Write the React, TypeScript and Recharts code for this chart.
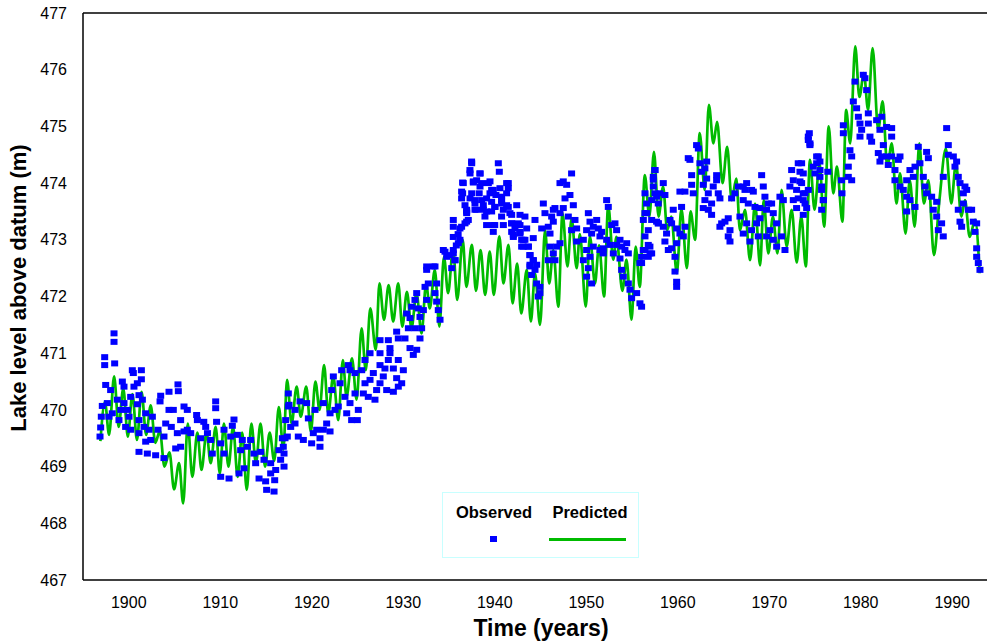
import React from 'react';
import { ComposedChart, Line, Scatter, XAxis, YAxis, ReferenceLine } from 'recharts';

// Observed lake levels [year, metres]
const obs1895: number[][] = [
  [1896.86, 469.53], [1896.93, 469.69], [1897.0, 469.88], [1897.11, 470.07], [1897.48, 470.44], [1897.37, 470.93],
  [1897.37, 470.79], [1898.39, 471.35], [1898.39, 471.2], [1898.46, 470.82], [1898.02, 470.35], [1897.84, 469.88],
  [1898.75, 470.18], [1898.93, 469.82], [1899.3, 470.5], [1899.48, 470.41], [1899.85, 470.0], [1900.39, 470.7],
  [1900.5, 470.65], [1901.38, 470.7], [1901.38, 470.54], [1900.94, 470.1], [1900.57, 470.41], [1900.21, 469.65],
  [1901.12, 469.82], [1901.85, 469.44], [1901.12, 469.26], [1902.03, 469.23], [1902.94, 469.2], [1903.85, 469.15],
  [1903.49, 470.25], [1903.42, 470.15], [1904.4, 470.32], [1905.38, 470.45], [1905.42, 470.33], [1904.4, 470.0],
  [1904.87, 470.0], [1904.04, 469.76], [1904.65, 469.7], [1903.85, 469.53], [1905.31, 469.59], [1906.04, 470.06],
  [1906.4, 470.0], [1905.67, 469.82], [1906.04, 469.62], [1907.42, 469.91], [1907.5, 469.82], [1906.77, 469.59],
  [1908.2, 469.79], [1908.41, 469.7], [1909.5, 470.15], [1909.5, 470.03], [1909.6, 469.79], [1911.5, 469.83],
  [1911.32, 469.72], [1911.14, 469.53], [1908.95, 469.47], [1910.05, 469.41], [1910.41, 469.23], [1910.05, 468.82],
  [1910.96, 468.79], [1912.05, 468.88], [1912.6, 468.97], [1912.23, 469.29], [1913.32, 469.47], [1913.87, 469.06],
  [1914.24, 468.79], [1914.96, 468.74], [1915.07, 468.59], [1915.88, 468.56], [1915.95, 468.76], [1915.51, 468.88],
  [1916.6, 469.12], [1916.97, 469.0], [1916.97, 469.23], [1916.79, 469.5], [1917.51, 470.09], [1917.7, 469.7],
  [1899.12, 470.0], [1899.66, 469.7], [1900.03, 469.88], [1901.49, 470.18], [1901.67, 469.7], [1902.21, 469.65],
  [1902.58, 469.88], [1903.2, 469.65], [1902.4, 469.47], [1905.13, 469.32], [1905.67, 469.35], [1906.4, 469.65],
  [1907.86, 469.5], [1908.6, 469.59], [1909.13, 469.23], [1910.41, 469.65], [1911.87, 469.56], [1912.41, 469.47],
  [1912.96, 469.35], [1913.69, 469.23], [1914.42, 469.26], [1914.78, 469.12], [1915.51, 469.06], [1916.06, 468.94],
  [1916.42, 469.29], [1917.15, 469.82], [1917.33, 469.53], [1900.94, 470.47], [1901.12, 470.26], [1897.66, 470.12],
  [1898.2, 469.94], [1899.48, 470.12], [1900.21, 470.23], [1901.12, 469.59], [1901.85, 469.94],
];

const obs1916: number[][] = [
  [1916.89, 469.35], [1917.08, 469.5], [1919.08, 469.47], [1919.99, 469.41], [1920.9, 469.35], [1920.9, 469.5],
  [1917.44, 470.29], [1917.44, 470.06], [1918.17, 470.0], [1918.17, 469.76], [1918.72, 470.15], [1919.44, 470.12],
  [1919.63, 469.85], [1920.36, 470.0], [1920.54, 469.65], [1921.63, 469.76], [1922.0, 469.94], [1922.54, 470.0],
  [1921.27, 470.12], [1922.18, 470.35], [1922.36, 470.59], [1923.09, 470.47], [1923.27, 470.7], [1923.63, 470.23],
  [1924.18, 470.12], [1924.36, 469.82], [1925.09, 470.0], [1924.98, 469.82], [1924.18, 470.7], [1924.0, 470.79],
  [1924.73, 470.65], [1925.46, 470.7], [1925.82, 470.47], [1926.18, 470.23], [1926.91, 470.18], [1927.09, 470.35],
  [1925.82, 470.88], [1926.37, 471.0], [1927.46, 470.79], [1927.82, 470.59], [1927.46, 470.47], [1928.19, 470.35],
  [1928.92, 470.32], [1929.83, 470.47], [1930.01, 470.7], [1929.46, 470.88], [1928.92, 470.73], [1928.37, 470.88],
  [1928.55, 471.0], [1927.46, 471.0], [1927.46, 471.23], [1928.37, 471.23], [1928.55, 471.09], [1929.28, 471.38],
  [1929.46, 471.26], [1930.19, 471.26], [1930.74, 471.09], [1931.1, 470.97], [1931.47, 471.06], [1931.83, 471.26],
  [1931.28, 471.44], [1930.56, 471.44], [1930.37, 471.7], [1930.92, 471.82], [1930.74, 471.62], [1931.28, 471.94],
  [1931.65, 471.79], [1931.83, 471.64], [1932.01, 471.44], [1931.47, 472.06], [1932.2, 471.76], [1932.56, 472.47],
  [1932.74, 472.23], [1933.29, 472.53], [1933.65, 472.23], [1933.47, 472.06], [1933.65, 471.91], [1933.83, 471.76],
  [1934.02, 471.59], [1932.38, 472.17], [1932.56, 471.94], [1934.56, 472.79], [1934.75, 472.7], [1935.11, 472.73],
  [1935.47, 472.76], [1935.66, 472.64], [1918.53, 469.53], [1920.17, 469.59], [1921.27, 469.65], [1922.0, 469.62],
  [1922.9, 470.06], [1923.82, 469.94], [1924.73, 470.29], [1925.64, 470.29], [1926.37, 470.53], [1926.73, 470.65],
  [1928.0, 470.73], [1929.28, 470.56], [1929.46, 470.41], [1935.3, 472.5], [1935.8, 472.9], [1936.0, 473.1],
  [1932.56, 472.53], [1933.47, 472.53], [1934.38, 472.82], [1935.47, 472.82], [1935.65, 472.64], [1935.47, 473.05],
  [1935.47, 473.23], [1935.47, 473.35], [1936.02, 472.94],
];

const obs1936: number[][] = [
  [1936.2, 473.0], [1936.38, 473.23], [1936.56, 474.0], [1936.38, 473.85], [1936.93, 473.47], [1937.11, 473.35],
  [1936.75, 473.29], [1937.48, 474.35], [1937.29, 474.23], [1938.39, 474.17], [1938.02, 474.05], [1938.39, 473.94],
  [1937.66, 474.03], [1937.48, 473.82], [1937.84, 473.7], [1938.57, 473.7], [1937.84, 473.53], [1936.93, 473.53],
  [1938.75, 473.61], [1939.3, 474.0], [1939.48, 473.82], [1939.84, 473.88], [1940.39, 474.35], [1940.5, 474.2],
  [1940.75, 473.76], [1941.3, 474.0], [1941.48, 473.91], [1940.75, 473.64], [1941.3, 473.61], [1940.13, 473.79],
  [1939.66, 473.67], [1940.03, 473.58], [1939.11, 473.5], [1939.84, 473.26], [1940.94, 473.26], [1941.66, 473.47],
  [1941.85, 473.29], [1942.03, 473.09], [1942.21, 473.2], [1942.58, 473.29], [1942.76, 473.14], [1942.94, 473.0],
  [1943.3, 473.0], [1943.12, 472.88], [1943.67, 472.88], [1943.85, 472.73], [1944.21, 472.64], [1943.85, 472.53],
  [1944.4, 472.47], [1944.58, 472.56], [1944.03, 472.38], [1944.58, 472.23], [1944.94, 472.17], [1944.94, 472.06],
  [1944.76, 472.0], [1944.4, 473.35], [1945.13, 473.2], [1945.31, 473.64], [1945.49, 473.47], [1945.85, 473.23],
  [1946.04, 473.11], [1946.22, 473.41], [1946.4, 473.53], [1946.58, 473.56], [1946.4, 473.32], [1947.13, 474.0],
  [1947.49, 474.03], [1947.86, 473.97], [1948.4, 474.17], [1948.22, 473.79], [1948.59, 473.61], [1947.68, 473.73],
  [1947.49, 473.56], [1947.13, 473.47], [1948.04, 473.41], [1948.77, 473.35], [1948.95, 473.2], [1948.4, 473.17],
  [1948.95, 472.97], [1947.13, 472.94], [1946.4, 472.76], [1946.76, 472.88], [1946.04, 472.88], [1945.85, 472.64],
  [1946.58, 472.64], [1949.68, 473.0], [1950.23, 473.47], [1950.41, 473.32], [1950.04, 473.17], [1950.59, 473.11],
  [1950.77, 473.23], [1951.14, 473.35], [1951.32, 473.2], [1951.68, 473.14], [1951.5, 473.06], [1950.77, 472.88],
  [1950.41, 472.7], [1950.04, 472.82], [1949.68, 472.64], [1950.23, 472.5], [1950.04, 472.35], [1950.59, 472.23],
  [1951.5, 472.82], [1951.86, 472.76], [1952.23, 473.7], [1952.41, 473.58], [1952.78, 473.26], [1953.14, 473.29],
  [1953.32, 473.17], [1953.69, 473.0], [1953.32, 472.91], [1953.87, 472.88], [1954.23, 472.82], [1954.42, 472.94],
  [1954.6, 472.76], [1952.96, 472.76], [1952.59, 472.91], [1952.23, 473.0], [1951.86, 472.85], [1953.69, 472.67],
  [1953.87, 472.47], [1954.05, 472.35], [1954.6, 472.23], [1954.78, 472.12], [1954.96, 471.97], [1955.51, 472.06],
  [1955.87, 471.88], [1956.05, 471.82], [1955.87, 472.59], [1956.05, 472.7], [1956.42, 472.82], [1956.78, 472.91],
  [1956.97, 472.76], [1956.24, 473.35], [1956.42, 473.47], [1956.6, 473.64], [1956.42, 473.82], [1957.51, 474.23],
  [1957.33, 474.06], [1957.51, 473.82], [1957.15, 473.35], [1957.69, 473.32], [1957.88, 473.29],
  [1937.47, 474.38], [1937.3, 474.17], [1938.39, 474.17], [1936.49, 474.01], [1937.66, 474.01], [1939.48, 474.03],
  [1938.57, 474.0], [1941.48, 474.0], [1940.57, 473.91], [1936.49, 473.82], [1938.3, 473.82], [1939.66, 473.88],
  [1941.3, 473.82], [1936.38, 473.73], [1937.3, 473.73], [1939.11, 473.73], [1940.75, 473.7], [1936.75, 473.61],
  [1937.84, 473.64], [1940.0, 473.58], [1942.4, 473.61], [1941.48, 473.58], [1936.93, 473.5], [1938.75, 473.53],
  [1939.66, 473.5], [1940.94, 473.53], [1942.76, 473.44], [1938.02, 473.53], [1938.93, 473.41], [1940.75, 473.41],
  [1941.85, 473.44], [1943.3, 473.41], [1936.93, 473.32], [1939.11, 473.26], [1940.0, 473.26], [1941.85, 473.29],
  [1942.76, 473.26], [1943.49, 473.2], [1936.2, 473.2], [1939.84, 473.14], [1941.85, 473.14], [1942.76, 473.11],
  [1942.03, 473.05], [1943.12, 473.0], [1944.21, 473.03], [1942.94, 472.88], [1943.67, 472.88], [1943.85, 472.73],
  [1944.21, 472.64], [1943.85, 472.56],
];

const obs1956: number[][] = [
  [1956.05, 472.59], [1956.23, 472.82], [1956.42, 473.06], [1956.78, 473.17], [1956.96, 472.88], [1956.78, 472.7],
  [1957.15, 472.76], [1956.6, 473.47], [1957.15, 473.7], [1957.33, 473.94], [1957.51, 474.23], [1957.33, 474.11],
  [1957.69, 473.76], [1957.87, 473.64], [1958.06, 473.82], [1958.42, 474.0], [1958.6, 473.79], [1957.87, 473.29],
  [1958.42, 473.23], [1958.78, 473.11], [1958.6, 472.97], [1959.15, 473.35], [1959.33, 473.29], [1959.51, 473.53],
  [1959.88, 473.2], [1960.24, 473.11], [1960.61, 473.06], [1960.79, 473.23], [1960.42, 473.58], [1960.79, 473.85],
  [1960.24, 473.85], [1959.88, 472.94], [1959.7, 472.7], [1959.33, 472.85], [1958.97, 472.82], [1959.7, 472.44],
  [1959.88, 472.26], [1959.88, 472.17], [1961.33, 474.41], [1961.15, 474.44], [1961.52, 474.14], [1961.52, 473.97],
  [1961.7, 473.82], [1962.06, 474.67], [1962.25, 474.61], [1962.43, 474.35], [1962.61, 474.2], [1962.97, 474.26],
  [1963.16, 474.38], [1963.16, 474.08], [1962.79, 473.97], [1963.34, 473.82], [1962.97, 473.7], [1962.79, 473.56],
  [1963.34, 473.53], [1963.7, 473.64], [1963.88, 473.94], [1964.25, 474.14], [1964.25, 474.05], [1964.43, 473.82],
  [1963.7, 473.44], [1964.61, 473.73], [1964.8, 473.29], [1964.61, 473.23], [1965.16, 473.32], [1965.52, 473.38],
  [1965.71, 473.17], [1965.71, 472.97], [1965.52, 473.06], [1965.89, 473.73], [1966.25, 473.82], [1966.62, 473.94],
  [1967.16, 473.94], [1967.35, 473.88], [1967.53, 474.0], [1968.07, 473.88], [1968.26, 473.85], [1967.16, 473.7],
  [1967.71, 473.64], [1968.44, 473.58], [1968.98, 473.56], [1968.98, 473.38], [1966.8, 473.41], [1967.53, 473.29],
  [1967.16, 473.11], [1968.07, 473.17], [1968.62, 473.29], [1968.8, 473.06], [1967.89, 472.97], [1969.17, 474.14],
  [1969.35, 473.94], [1969.53, 473.76], [1969.9, 473.64], [1970.26, 473.64], [1969.71, 473.53], [1970.44, 473.47],
  [1970.81, 473.29], [1970.08, 473.17], [1969.71, 473.06], [1970.44, 473.0], [1970.81, 472.88], [1971.35, 473.06],
  [1971.72, 472.82], [1971.54, 473.7], [1971.17, 473.76], [1972.26, 473.94], [1972.45, 474.23], [1972.63, 474.05],
  [1973.36, 474.2], [1973.36, 474.03], [1973.17, 474.35], [1972.99, 473.88], [1973.17, 473.73], [1973.72, 473.7],
  [1973.9, 473.82], [1972.63, 473.7], [1972.99, 473.56], [1974.09, 473.56], [1974.27, 474.82], [1974.45, 474.7],
  [1975.18, 474.47], [1975.54, 474.38], [1974.81, 474.29], [1975.0, 474.17], [1975.54, 474.11], [1975.91, 473.7],
  [1975.72, 473.88],
];

const obs1973: number[][] = [
  [1974.38, 474.88], [1974.27, 474.76], [1974.45, 474.67], [1973.54, 474.35], [1973.72, 474.17], [1973.54, 474.0],
  [1973.72, 473.82], [1973.91, 473.64], [1973.72, 473.44], [1974.27, 473.88], [1975.36, 474.47], [1975.18, 474.35],
  [1975.55, 474.23], [1975.73, 473.94], [1975.91, 473.7], [1975.73, 473.53], [1978.1, 475.02], [1978.1, 474.88],
  [1978.82, 474.58], [1979.01, 474.47], [1978.64, 474.29], [1978.64, 474.11], [1979.01, 474.05], [1979.37, 475.79],
  [1979.19, 475.44], [1979.55, 475.32], [1979.74, 475.17], [1979.92, 475.05], [1980.28, 475.91], [1980.46, 475.85],
  [1980.65, 475.64], [1980.1, 474.94], [1979.92, 474.82], [1980.83, 475.23], [1980.83, 475.05], [1981.01, 474.82],
  [1981.19, 474.73], [1981.74, 475.11], [1982.1, 474.94], [1982.29, 475.17], [1982.83, 474.99], [1983.38, 474.97],
  [1983.38, 474.82], [1982.47, 474.67], [1981.92, 474.53], [1982.1, 474.38], [1982.29, 474.47], [1982.83, 474.47],
  [1983.01, 474.32], [1983.38, 474.47], [1983.74, 474.23], [1984.11, 474.41], [1984.29, 474.47], [1983.74, 474.05],
  [1984.29, 473.94], [1984.65, 473.88], [1985.02, 474.05], [1985.38, 474.23], [1985.75, 474.11], [1986.29, 474.64],
  [1987.2, 474.55], [1987.39, 474.44], [1986.47, 474.35], [1985.93, 474.29], [1986.84, 474.11], [1987.02, 473.94],
  [1987.2, 473.82], [1985.02, 473.76], [1985.38, 473.7], [1985.93, 473.58], [1985.02, 473.5], [1987.75, 473.76],
  [1987.93, 473.53], [1988.3, 473.41], [1988.48, 473.17], [1989.02, 473.06], [1988.84, 473.29], [1988.3, 473.67],
  [1989.02, 474.11], [1989.39, 474.97], [1989.57, 474.67], [1989.57, 474.5], [1990.12, 474.47], [1990.3, 474.29],
  [1990.48, 474.38], [1990.66, 474.11], [1990.85, 474.0], [1991.21, 473.82], [1991.39, 473.94], [1991.58, 473.88],
  [1991.21, 473.64], [1990.66, 473.53], [1990.85, 473.32], [1991.03, 473.23], [1991.76, 473.53], [1992.12, 473.53],
  [1992.3, 473.32], [1992.67, 473.29], [1992.49, 473.14], [1992.67, 472.85], [1992.67, 472.7], [1992.85, 472.59],
  [1993.03, 472.47], [1977.9, 474.05], [1977.95, 473.82], [1976.4, 474.2],
];

// Predicted lake levels [year, metres] (seasonal peaks and troughs)
const pred1896: number[][] = [
  [1896.9, 469.45], [1897.4, 470.14], [1897.85, 469.56], [1898.4, 470.59], [1898.9, 469.7], [1899.4, 470.38],
  [1899.9, 469.53], [1900.4, 470.28], [1900.9, 469.47], [1901.4, 470.32], [1901.9, 469.56], [1902.4, 470.08],
  [1902.9, 469.42], [1903.4, 469.63], [1903.9, 469.0], [1904.45, 469.25], [1904.95, 468.6], [1905.5, 469.06],
  [1905.95, 468.35], [1906.45, 469.76], [1906.95, 468.82], [1907.5, 469.6], [1907.95, 468.94], [1908.5, 469.6],
  [1908.95, 469.06], [1909.5, 469.7], [1909.95, 468.88], [1910.4, 469.76], [1910.9, 469.0], [1911.4, 469.7],
  [1911.9, 468.82], [1912.4, 469.6], [1912.9, 468.59], [1913.4, 469.76], [1913.9, 469.06], [1914.4, 469.76],
  [1914.9, 469.0], [1915.4, 469.6], [1915.9, 469.1], [1916.4, 470.05], [1916.9, 469.3],
];

const pred1917: number[][] = [
  [1917.3, 470.53], [1917.8, 469.76], [1918.35, 470.41], [1918.8, 469.88], [1919.4, 470.41], [1919.9, 469.62],
  [1920.4, 470.5], [1920.85, 470.0], [1921.35, 470.79], [1921.8, 469.94], [1922.35, 470.59], [1922.9, 469.82],
  [1923.4, 470.88], [1923.8, 470.23], [1924.4, 470.91], [1924.9, 470.18], [1925.45, 471.44], [1925.9, 470.7],
  [1926.4, 471.79], [1927.0, 471.06], [1927.4, 472.23], [1927.9, 471.59], [1928.4, 472.2], [1928.9, 471.56],
  [1929.45, 472.23], [1929.9, 471.47], [1930.4, 472.08], [1930.9, 471.44], [1931.45, 472.06], [1932.0, 471.35],
  [1932.5, 472.23], [1932.9, 471.79], [1933.45, 472.47], [1933.95, 471.47], [1934.45, 472.7], [1934.9, 472.06],
  [1935.45, 472.85], [1935.9, 471.94], [1936.5, 473.0], [1936.9, 472.17],
];

const pred1937: number[][] = [
  [1937.5, 472.91], [1937.95, 472.1], [1938.45, 472.82], [1938.95, 472.03], [1939.45, 472.79], [1939.9, 472.03],
  [1940.5, 473.06], [1940.95, 472.23], [1941.5, 472.91], [1941.95, 471.88], [1942.45, 472.58], [1942.9, 471.7],
  [1943.5, 472.47], [1943.95, 471.56], [1944.4, 472.41], [1944.95, 471.5], [1945.5, 473.17], [1945.95, 472.23],
  [1946.4, 472.82], [1946.95, 471.82], [1947.4, 473.47], [1947.95, 472.53], [1948.4, 473.38], [1948.95, 472.5],
  [1949.3, 473.1], [1949.95, 471.82], [1950.4, 473.06], [1950.95, 472.23], [1951.4, 472.9], [1951.95, 472.0],
  [1952.4, 473.61], [1952.95, 472.65], [1953.3, 473.05], [1953.95, 472.1], [1954.4, 472.65], [1954.95, 471.59],
  [1955.4, 472.88], [1955.85, 472.17],
];

const pred1956: number[][] = [
  [1956.4, 474.14], [1956.9, 473.41], [1957.4, 474.55], [1957.9, 473.41], [1958.4, 473.94], [1958.85, 473.17],
  [1959.3, 473.41], [1959.9, 472.41], [1960.4, 473.55], [1961.0, 472.5], [1961.4, 473.5], [1961.9, 473.0],
  [1962.4, 474.88], [1962.95, 473.88], [1963.4, 475.38], [1963.9, 474.7], [1964.3, 475.08], [1964.9, 474.0],
  [1965.4, 474.64], [1965.9, 473.7], [1966.4, 474.08], [1966.8, 473.17], [1967.35, 473.53], [1967.9, 472.64],
  [1968.45, 473.64], [1969.0, 472.55], [1969.4, 473.7], [1969.9, 472.76], [1970.4, 473.41], [1970.9, 472.76],
  [1971.35, 473.88], [1971.9, 472.88], [1972.45, 473.53], [1973.0, 472.6],
];

const pred1973: number[][] = [
  [1973.5, 473.41], [1974.0, 472.53], [1974.45, 474.41], [1974.95, 473.53], [1975.5, 474.35], [1976.0, 473.23],
  [1976.5, 475.0], [1977.0, 473.82], [1977.4, 474.29], [1978.0, 473.32], [1978.4, 475.29], [1978.85, 474.7],
  [1979.4, 476.41], [1979.85, 475.52], [1980.35, 475.94], [1980.8, 475.29], [1981.3, 476.38], [1981.9, 474.94],
  [1982.4, 475.44], [1982.9, 474.29], [1983.4, 474.7], [1983.9, 473.64], [1984.3, 474.17], [1984.9, 473.11],
  [1985.35, 474.05], [1985.9, 473.23], [1986.4, 474.7], [1986.9, 473.64], [1987.4, 474.05], [1988.0, 472.73],
  [1988.6, 473.7], [1989.3, 474.61], [1989.9, 473.64], [1990.4, 474.35], [1991.0, 473.41], [1991.4, 473.7],
  [1991.9, 473.05], [1992.5, 473.35], [1993.0, 472.41],
];

const xTicks = [1900, 1910, 1920, 1930, 1940, 1950, 1960, 1970, 1980, 1990];
const yTicks = [467, 468, 469, 470, 471, 472, 473, 474, 475, 476, 477];

const toRows = (arr: number[][]) => arr.map(([year, value]) => ({ year, value }));
const observedData = toRows([...obs1895, ...obs1916, ...obs1936, ...obs1956, ...obs1973]);
const predictedData = toRows([...pred1896, ...pred1917, ...pred1937, ...pred1956, ...pred1973]).sort(
  (a, b) => a.year - b.year
);

const BLUE = '#0000ff';
const GREEN = '#00bb00';
const FONT = 'Liberation Sans, Arial, sans-serif';

const Square = (props: any) => {
  const { cx, cy } = props;
  if (cx == null || cy == null) return <g />;
  return <rect x={cx - 3.5} y={cy - 3} width={7} height={6} fill={BLUE} />;
};

const YTitle = () => (
  <text
    x={18}
    y={288}
    transform="rotate(-90 18 288)"
    textAnchor="middle"
    dominantBaseline="central"
    fontFamily={FONT}
    fontWeight="bold"
    fontSize={22}
    fill="#000"
  >
    Lake level above datum (m)
  </text>
);

const XTitle = () => (
  <text
    x={541}
    y={628}
    textAnchor="middle"
    dominantBaseline="central"
    fontFamily={FONT}
    fontWeight="bold"
    fontSize={23}
    fill="#000"
  >
    Time (years)
  </text>
);

export default function App() {
  return (
    <div style={{ position: 'absolute', left: 0, top: 0, width: 987, height: 644, background: '#fff', overflow: 'hidden' }}>
      <ComposedChart width={987} height={644} margin={{ top: 13, right: 0, bottom: 0, left: 0 }}>
        <XAxis
          dataKey="year"
          type="number"
          domain={[1895, 1993.8]}
          allowDataOverflow
          ticks={xTicks}
          tickLine={false}
          tickSize={0}
          tickMargin={17}
          height={64}
          axisLine={{ stroke: '#000', strokeWidth: 1.5 }}
          tick={{ fill: '#000', fontSize: 16, fontFamily: FONT }}
          label={<XTitle />}
        />
        <YAxis
          dataKey="value"
          type="number"
          domain={[467, 477]}
          allowDataOverflow
          ticks={yTicks}
          interval={0}
          tickLine={false}
          tickSize={0}
          tickMargin={16}
          width={83}
          axisLine={{ stroke: '#000', strokeWidth: 1.5 }}
          tick={{ fill: '#000', fontSize: 16, fontFamily: FONT }}
          label={<YTitle />}
        />
        <ReferenceLine y={477} stroke="#000" strokeWidth={1.5} />
        <Scatter data={observedData} dataKey="value" shape={<Square />} isAnimationActive={false} />
        <Line
          data={predictedData}
          dataKey="value"
          type="monotone"
          stroke={GREEN}
          strokeWidth={2.7}
          dot={false}
          activeDot={false}
          isAnimationActive={false}
        />
      </ComposedChart>
      <div
        style={{
          position: 'absolute',
          left: 442,
          top: 492,
          width: 195,
          height: 64,
          border: '1.5px solid #c8ffff',
          fontFamily: FONT,
          fontWeight: 'bold',
          fontSize: 16.5,
          color: '#000',
        }}
      >
        <div style={{ position: 'absolute', left: 0, width: 102, top: 10, textAlign: 'center' }}>Observed</div>
        <div style={{ position: 'absolute', left: 102, width: 90, top: 10, textAlign: 'center' }}>Predicted</div>
        <div style={{ position: 'absolute', left: 47, top: 43, width: 7, height: 6, background: BLUE }} />
        <div style={{ position: 'absolute', left: 106, top: 45, width: 77, height: 2.5, background: GREEN }} />
      </div>
    </div>
  );
}
